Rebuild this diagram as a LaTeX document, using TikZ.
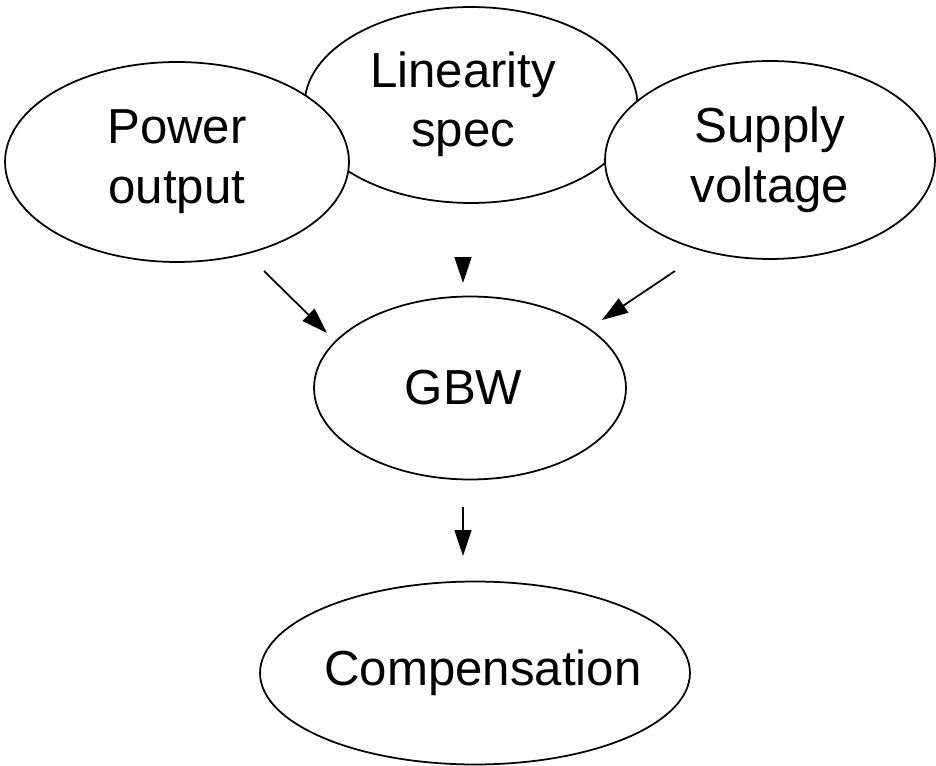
\documentclass[tikz,border=0pt]{standalone}
\usepackage{fontspec}
\setmainfont{Liberation Sans}
\usetikzlibrary{shapes.geometric, arrows.meta}

\begin{document}
\begin{tikzpicture}[x=0.02cm, y=-0.02cm]

% Define styles
\tikzstyle{bubble}=[draw, ellipse, fill=white, line width=1pt, inner xsep=-0.8cm, inner ysep=-0.3cm,
  align=center, font=\fontsize{28}{34}\selectfont]
\tikzstyle{link}=[line width=1pt, -{Triangle[length=0.52cm, width=0.34cm]}]

\useasboundingbox (0,0) rectangle (936,766);

% Top row (the middle one sits behind the outer two)
\node[bubble, minimum width=6.66cm, minimum height=3.92cm] (linearity) at (471,105)
  {\begin{tabular}{@{}c@{}}Linearity\\spec\end{tabular}\hspace*{0.32cm}};
\node[bubble, minimum width=6.88cm, minimum height=4.0cm] (power) at (177,162) {Power\\output};
\node[bubble, minimum width=6.6cm, minimum height=3.96cm] (supply) at (770,160) {Supply\\voltage};

% Middle and bottom
\node[bubble, minimum width=6.24cm, minimum height=3.66cm] (gbw) at (470,388) {GBW\hspace*{0.26cm}};
\node[bubble, minimum width=8.6cm, minimum height=3.66cm] (comp) at (475,673) {\hspace*{0.32cm}Compensation};

% Arrow ends
\coordinate (powtail) at (264,271);
\coordinate (powhead) at (327,333);
\coordinate (lintail) at (463,257);
\coordinate (linhead) at (463,283);
\coordinate (suptail) at (675,271);
\coordinate (suphead) at (602,320);
\coordinate (gbwtail) at (463,507);
\coordinate (gbwhead) at (463,556);

% Arrows
\draw[link] (powtail) -- (powhead);
\draw[link] (lintail) -- (linhead);
\draw[link] (suptail) -- (suphead);
\draw[link] (gbwtail) -- (gbwhead);

\end{tikzpicture}
\end{document}
